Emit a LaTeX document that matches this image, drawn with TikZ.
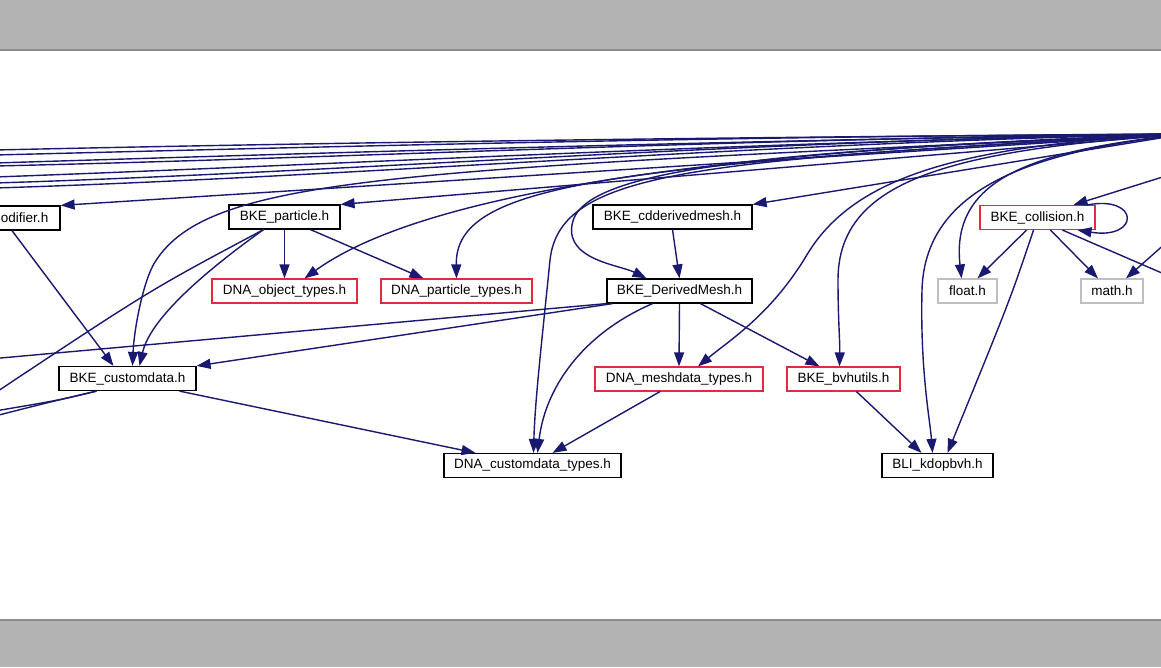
\documentclass[tikz,border=0pt]{standalone}
\usepackage{fontspec}
\setmainfont{Liberation Sans}
\usetikzlibrary{arrows.meta}
\definecolor{edgec}{RGB}{25,25,112}
\definecolor{redbox}{RGB}{232,40,60}
\definecolor{greybox}{RGB}{191,191,191}
\definecolor{barc}{RGB}{179,179,179}
\definecolor{barline}{RGB}{140,140,140}
\tikzset{
 fbox/.style={draw=black, line width=1.2pt, minimum height=24pt, inner sep=0pt, font=\fontsize{13.5}{15}\selectfont},
 redfbox/.style={fbox, draw=redbox},
 greyfbox/.style={fbox, draw=greybox},
 dep/.style={draw=edgec, line width=1.4pt, -{Triangle[length=14pt,width=10pt]}},
 plainedge/.style={draw=edgec, line width=1.4pt},
}
\begin{document}
\begin{tikzpicture}[x=1pt,y=-1pt]
\useasboundingbox (0,0) rectangle (1161,667);
\fill[white] (0,0) rectangle (1161,667);
\fill[barc] (0,0) rectangle (1161,50);
\fill[barc] (0,620) rectangle (1161,667);
\draw[barline, line width=1.5pt] (0,50) -- (1161,50);
\draw[barline, line width=1.5pt] (0,620) -- (1161,620);
\begin{scope}
\clip (0,51) rectangle (1161,619);
% nodes
\node[fbox, minimum width=82pt] (modifier) at (19,218) {modifier.h};
\node[fbox, minimum width=111pt] (particle) at (284.5,217) {BKE\_particle.h};
\node[redfbox, minimum width=145pt] (objtypes) at (284.5,291) {DNA\_object\_types.h};
\node[redfbox, minimum width=151pt] (ptypes) at (456.5,291) {DNA\_particle\_types.h};
\node[fbox, minimum width=159pt] (cdd) at (672.5,217) {BKE\_cdderivedmesh.h};
\node[fbox, minimum width=145pt] (dm) at (679.5,291) {BKE\_DerivedMesh.h};
\node[redfbox, minimum width=115pt] (collision) at (1037.5,217.5) {BKE\_collision.h};
\node[greyfbox, minimum width=59pt] (float) at (967.5,291) {float.h};
\node[greyfbox, minimum width=62pt] (math) at (1112,291) {math.h};
\node[fbox, minimum width=137pt] (customdata) at (127.5,378.5) {BKE\_customdata.h};
\node[redfbox, minimum width=168pt] (meshdata) at (679,379) {DNA\_meshdata\_types.h};
\node[redfbox, minimum width=113pt] (bvh) at (843.5,379) {BKE\_bvhutils.h};
\node[fbox, minimum width=177pt] (dnacd) at (532.5,465.5) {DNA\_customdata\_types.h};
\node[fbox, minimum width=111pt] (kd) at (937.5,465.5) {BLI\_kdopbvh.h};
% free ends off the picture
\coordinate (src) at (1185,134);
\coordinate (srcb) at (1185,170);
\coordinate (srcm) at (1185,226);
\coordinate (cr) at (1185,283);
\coordinate (pl) at (-5,393);
\coordinate (dl) at (-5,358.5);
\coordinate (cl1) at (-5,411);
\coordinate (cl2) at (-5,416);
\coordinate (l1) at (-5,150);
\coordinate (l2) at (-5,155);
\coordinate (l3) at (-5,163);
\coordinate (l4) at (-5,166);
\coordinate (l5) at (-5,177);
\coordinate (l6) at (-5,183);
\coordinate (l7) at (-5,188);
% bundle to the left
\draw[plainedge] (src) .. controls (750,137) and (350,142) .. (l1);
\draw[plainedge] (src) .. controls (750,136) and (350,146) .. (l2);
\draw[plainedge] (src) .. controls (750,140) and (350,152) .. (l3);
\draw[plainedge] (src) .. controls (750,138) and (350,158) .. (l4);
\draw[plainedge] (src) .. controls (750,142) and (350,164) .. (l5);
\draw[plainedge] (src) .. controls (750,140) and (350,172) .. (l6);
\draw[plainedge] (src) .. controls (750,143) and (350,177) .. (l7);
% edges from the source
\draw[dep] (src) -- (modifier.north east);
\draw[dep] (src) -- (particle.north east);
\draw[dep] (src) -- (cdd.north east);
\draw[dep] (srcb) -- ([xshift=36pt]collision.north);
\draw[dep] (srcm) -- ([xshift=14pt]math.north);
\draw[dep] (src) .. controls (700,150) and (420,195) .. ([xshift=20pt]objtypes.north);
\draw[dep] (src) .. controls (600,165) and (455,185) .. (ptypes.north);
\draw[dep] (src) .. controls (800,150) and (580,165) .. (572,225) .. controls (566,260) and (620,265) .. ([xshift=-33pt]dm.north);
\draw[dep] (src) .. controls (700,160) and (560,170) .. (550,260) .. controls (542,340) and (535,400) .. ([xshift=1pt]dnacd.north);
\draw[dep] (src) .. controls (950,145) and (850,180) .. (805,258) .. controls (770,315) and (730,340) .. ([xshift=19pt]meshdata.north);
\draw[dep] (src) .. controls (950,150) and (838,180) .. (838,280) .. controls (838,320) and (840,340) .. ([xshift=-4pt]bvh.north);
\draw[dep] (src) .. controls (1050,150) and (925,180) .. (922,290) .. controls (920,370) and (930,420) .. ([xshift=-5pt]kd.north);
\draw[dep] (src) .. controls (1040,150) and (950,175) .. ([xshift=-6pt]float.north);
\draw[dep] (src) .. controls (400,170) and (210,175) .. (155,262) .. controls (143,281) and (134,330) .. ([xshift=5pt]customdata.north);
% other edges
\draw[dep] ([xshift=-7pt]modifier.south) -- ([xshift=-14pt]customdata.north);
\draw[dep] (particle.south) -- (objtypes.north);
\draw[dep] ([xshift=26pt]particle.south) -- ([xshift=-33pt]ptypes.north);
\draw[dep] ([xshift=-21pt]particle.south) .. controls (200,275) and (150,320) .. ([xshift=12pt]customdata.north);
\draw[plainedge] ([xshift=-21pt]particle.south) .. controls (150,290) .. (pl);
\draw[dep] (cdd.south) -- (dm.north);
\draw[dep] (dm.south) -- (meshdata.north);
\draw[dep] ([xshift=21pt]dm.south) -- ([xshift=-24pt]bvh.north);
\draw[dep] ([xshift=-27pt]dm.south) .. controls (580,335) and (545,390) .. ([xshift=5pt]dnacd.north);
\draw[dep] ([xshift=-67pt]dm.south) -- (customdata.north east);
\draw[plainedge] (dm.south west) -- (dl);
\draw[dep] ([xshift=52pt]customdata.south) -- ([xshift=-57pt]dnacd.north);
\draw[plainedge] ([xshift=-31pt]customdata.south) .. controls (60,400) .. (cl1);
\draw[plainedge] ([xshift=-31pt]customdata.south) .. controls (50,402) .. (cl2);
\draw[dep] ([xshift=-19pt]meshdata.south) -- ([xshift=20pt]dnacd.north);
\draw[dep] ([xshift=13pt]bvh.south) -- ([xshift=-16pt]kd.north);
\draw[dep] ([xshift=-11pt]collision.south) -- ([xshift=10pt]float.north);
\draw[dep] ([xshift=-4pt]collision.south) .. controls (1010,300) .. ([xshift=10pt]kd.north);
\draw[dep] ([xshift=13pt]collision.south) -- ([xshift=-14pt]math.north);
\draw[plainedge] ([xshift=25pt]collision.south) -- (cr);
\draw[dep] ([xshift=50pt]collision.north) .. controls (1140,195) and (1140,240) .. ([xshift=40pt]collision.south);
\end{scope}
\end{tikzpicture}
\end{document}
